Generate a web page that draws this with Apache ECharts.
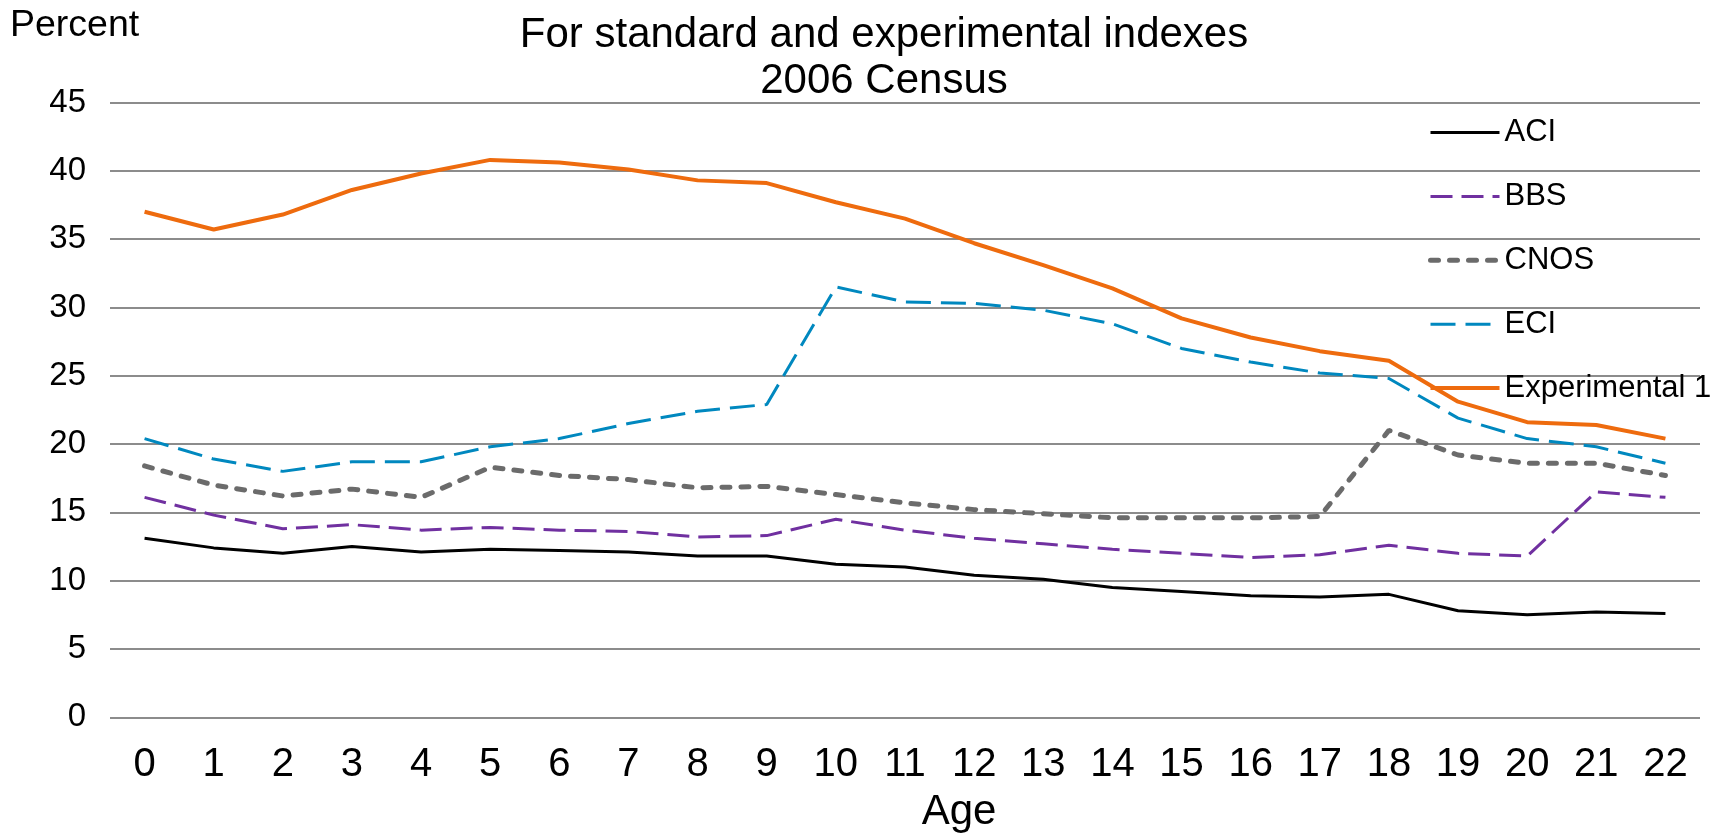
<!DOCTYPE html>
<html>
<head>
<meta charset="utf-8">
<script src="https://cdn.jsdelivr.net/npm/echarts@6/dist/echarts.min.js"></script>
<style>
html,body{margin:0;padding:0;background:#fff;}
#chart{width:1729px;height:833px;}
</style>
</head>
<body>
<div id="chart"></div>
<script>
const ages = ['0','1','2','3','4','5','6','7','8','9','10','11','12','13','14','15','16','17','18','19','20','21','22'];
const yTicks = [0, 5, 10, 15, 20, 25, 30, 35, 40, 45];
const aci = [13.1, 12.4, 12.0, 12.5, 12.1, 12.3, 12.2, 12.1, 11.8, 11.8, 11.2, 11.0, 10.4, 10.1, 9.5, 9.2, 8.9, 8.8, 9.0, 7.8, 7.5, 7.7, 7.6];
const bbs = [16.1, 14.8, 13.8, 14.1, 13.7, 13.9, 13.7, 13.6, 13.2, 13.3, 14.5, 13.7, 13.1, 12.7, 12.3, 12.0, 11.7, 11.9, 12.6, 12.0, 11.8, 16.5, 16.1];
const cnos = [18.4, 17.0, 16.2, 16.7, 16.1, 18.3, 17.7, 17.4, 16.8, 16.9, 16.3, 15.7, 15.2, 14.9, 14.6, 14.6, 14.6, 14.7, 21.0, 19.2, 18.6, 18.6, 17.7];
const eci = [20.4, 18.9, 18.0, 18.7, 18.7, 19.8, 20.4, 21.5, 22.4, 22.9, 31.5, 30.4, 30.3, 29.8, 28.8, 27.0, 26.0, 25.2, 24.8, 21.9, 20.4, 19.8, 18.6];
const exp1 = [37.0, 35.7, 36.8, 38.6, 39.8, 40.8, 40.6, 40.1, 39.3, 39.1, 37.7, 36.5, 34.7, 33.1, 31.4, 29.2, 27.8, 26.8, 26.1, 23.1, 21.6, 21.4, 20.4];
const seriesNames = ['ACI', 'BBS', 'CNOS', 'ECI', 'Experimental 1'];

const FONT = '"Liberation Sans", Arial, Helvetica, sans-serif';
const chart = echarts.init(document.getElementById('chart'));

function line(name, data, color, width, type, cap) {
  return {
    name: name, type: 'line', data: data, symbol: 'none', smooth: false,
    legendIcon: 'none',
    lineStyle: { color: color, width: width, type: type, cap: cap || 'butt' },
    itemStyle: { color: color },
    emphasis: { disabled: true },
    animation: false
  };
}

chart.setOption({
  backgroundColor: '#ffffff',
  animation: false,
  title: [
    {
      text: 'For standard and experimental indexes\n2006 Census',
      left: 879, top: 7, textAlign: 'center',
      textStyle: { fontFamily: FONT, fontSize: 42, fontWeight: 'normal', color: '#000', lineHeight: 46 }
    },
    {
      text: 'Percent', left: 5, top: 2,
      textStyle: { fontFamily: FONT, fontSize: 37.5, fontWeight: 'normal', color: '#000', lineHeight: 38 }
    }
  ],
  legend: {
    orient: 'vertical', left: 1423, top: 111.5,
    itemWidth: 69, itemHeight: 14, itemGap: 31.9,
    data: seriesNames,
    itemStyle: { opacity: 0 },
    lineStyle: { width: 'inherit', type: 'inherit', cap: 'inherit' },
    textStyle: { fontFamily: FONT, fontSize: 31, color: '#000', lineHeight: 32 }
  },
  grid: { left: 110, right: 29, top: 102.5, bottom: 115.7, containLabel: false, outerBoundsMode: 'none' },
  xAxis: {
    type: 'category', data: ages, boundaryGap: true,
    name: 'Age', nameLocation: 'middle', nameGap: 74,
    nameTextStyle: { fontFamily: FONT, fontSize: 42, color: '#000', lineHeight: 42, padding: [0, 0, 0, 108] },
    axisLine: { show: false }, axisTick: { show: false },
    axisLabel: { fontFamily: FONT, fontSize: 40, color: '#000', margin: 28, lineHeight: 40, interval: 0 },
    splitLine: { show: false }
  },
  yAxis: {
    type: 'value', min: yTicks[0], max: yTicks[yTicks.length - 1], interval: 5,
    axisLine: { show: false }, axisTick: { show: false },
    axisLabel: { fontFamily: FONT, fontSize: 33, color: '#000', margin: 24 },
    splitLine: { show: true, lineStyle: { color: '#8c8c8c', width: 2 } }
  },
  series: [
    line('ACI', aci, '#000000', 3, 'solid'),
    line('BBS', bbs, '#7030a0', 3, [22, 9]),
    line('CNOS', cnos, '#6b6b6b', 5, [8, 11], 'round'),
    line('ECI', eci, '#0088bf', 3, [25, 10]),
    line('Experimental 1', exp1, '#ee6b0e', 4, 'solid')
  ]
});
</script>
</body>
</html>
